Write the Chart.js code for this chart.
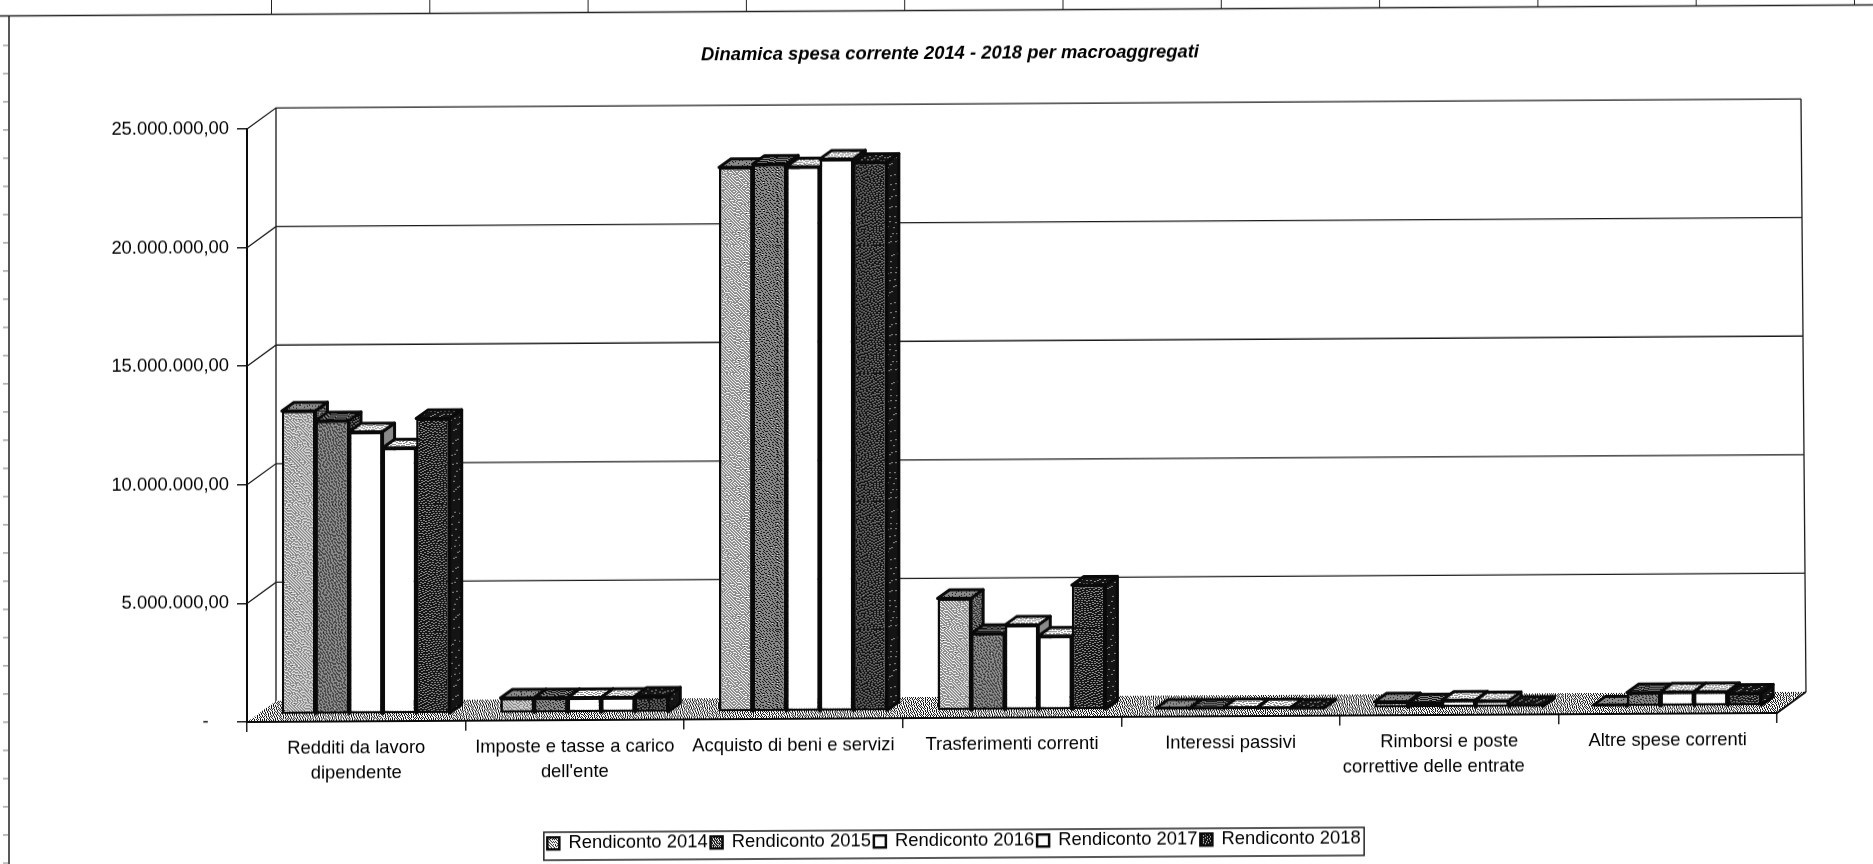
<!DOCTYPE html>
<html lang="it">
<head>
<meta charset="utf-8">
<title>Dinamica spesa corrente</title>
<script src="https://cdn.jsdelivr.net/npm/chart.js@4"></script>
<style>
html,body{margin:0;padding:0;background:#fff;overflow:hidden;width:1873px;height:864px}
canvas{display:block;transform-origin:247px 722px;transform:skewY(-0.338deg)}
</style>
</head>
<body>
<canvas id="c" width="1873" height="864"></canvas>
<script>
const chartTitle = 'Dinamica spesa corrente 2014 - 2018 per macroaggregati';
const categories = [
  ['Redditi da lavoro', 'dipendente'],
  ['Imposte e tasse a carico', "dell'ente"],
  'Acquisto di beni e servizi',
  'Trasferimenti correnti',
  'Interessi passivi',
  ['Rimborsi e poste', 'correttive delle entrate\u00A0\u00A0\u00A0\u00A0\u00A0\u00A0'],
  'Altre spese correnti'
];
const seriesNames = ['Rendiconto 2014', 'Rendiconto 2015', 'Rendiconto 2016', 'Rendiconto 2017', 'Rendiconto 2018'];
const rendiconto2014 = [12810000, 650000, 22970000, 4740000, 60000, 270000, 80000];
const rendiconto2015 = [12390000, 650000, 23100000, 3260000, 50000, 220000, 600000];
const rendiconto2016 = [11910000, 650000, 22980000, 3600000, 60000, 330000, 620000];
const rendiconto2017 = [11230000, 650000, 23300000, 3130000, 50000, 300000, 620000];
const rendiconto2018 = [12460000, 700000, 23150000, 5270000, 30000, 100000, 550000];
const seriesValues = [rendiconto2014, rendiconto2015, rendiconto2016, rendiconto2017, rendiconto2018];
const yTickValues = [0, 5000000, 10000000, 15000000, 20000000, 25000000];
const yTickLabels = ['-\u00A0\u00A0\u00A0\u00A0', '5.000.000,00', '10.000.000,00', '15.000.000,00', '20.000.000,00', '25.000.000,00'];

// Styling of the scanned, dithered monochrome print
const frontLevels = [0.66, 0.38, 1, 1, 0.16];
const topLevels = [0.45, 0.25, 0.8, 0.8, 0.08];
const sideLevels = [0.3, 0.15, 0.5, 0.5, 0.03];
const ink = '#0a0a0a';
const FONT = '"Liberation Sans", Arial, sans-serif';
const FONT_SIZE = 18.4;
const WALL = {dx: 29, dy: -21, lean: 5};
const PLANE = {dx: 9.5, dy: -7};
const BAR = {dx: 12, dy: -8.5};

// Error-diffused tile, like the halftone of the fax/scan
function dither(level) {
  const size = 128, c = document.createElement('canvas');
  c.width = c.height = size;
  const g = c.getContext('2d'), img = g.createImageData(size, size);
  const buf = new Float32Array(size * size);
  for (let i = 0; i < buf.length; i++) {
    const h = Math.sin(i * 12.9898) * 43758.5453;
    buf[i] = level + ((h - Math.floor(h)) - 0.5) * 0.08;
  }
  for (let y = 0; y < size; y++) for (let x = 0; x < size; x++) {
    const i = y * size + x, old = buf[i], v = old >= 0.5 ? 1 : 0, e = old - v;
    if (x + 1 < size) buf[i + 1] += e * 7 / 16;
    if (y + 1 < size) {
      if (x > 0) buf[i + size - 1] += e * 3 / 16;
      buf[i + size] += e * 5 / 16;
      if (x + 1 < size) buf[i + size + 1] += e / 16;
    }
    const p = i * 4, shade = v ? 255 : 20;
    img.data[p] = img.data[p + 1] = img.data[p + 2] = shade;
    img.data[p + 3] = 255;
  }
  g.putImageData(img, 0, 0);
  return g.createPattern(c, 'repeat');
}
const frontFill = frontLevels.map(dither);
const topFill = topLevels.map(dither);
const sideFill = sideLevels.map(dither);
const floorFill = dither(0.58);

function poly(ctx, pts, fill, stroke, lw) {
  ctx.beginPath();
  pts.forEach((p, i) => i ? ctx.lineTo(p[0], p[1]) : ctx.moveTo(p[0], p[1]));
  ctx.closePath();
  if (fill) { ctx.fillStyle = fill; ctx.fill(); }
  if (stroke) { ctx.strokeStyle = stroke; ctx.lineWidth = lw; ctx.lineJoin = 'round'; ctx.stroke(); }
}

const scene = {
  id: 'scene',
  afterLayout(chart) {
    const lg = chart.legend, t = chart.titleBlock;
    t.left += 11.5; t.right += 11.5;
    lg.left += 15.5; lg.right += 15.5;
    lg.top = 833; lg.bottom = 864;
  },
  beforeDraw(chart) {
    const ctx = chart.ctx;
    ctx.save();
    ctx.fillStyle = '#fff';
    ctx.fillRect(0, 0, chart.width, chart.height);
    ctx.strokeStyle = '#222';
    ctx.lineWidth = 1.5;
    ctx.beginPath();
    ctx.moveTo(0, 14.5); ctx.lineTo(chart.width, 14.5);
    ctx.moveTo(9, 14.5); ctx.lineTo(9, chart.height);
    ctx.stroke();
    ctx.lineWidth = 1;
    ctx.beginPath();
    for (let x = 271.5; x < chart.width; x += 158.3) { ctx.moveTo(x, 0); ctx.lineTo(x, 14); }
    ctx.stroke();
    ctx.strokeStyle = '#777';
    ctx.beginPath();
    for (let y = 44; y < chart.height; y += 28.2) { ctx.moveTo(3, y); ctx.lineTo(8, y); }
    ctx.stroke();
    ctx.restore();
  },
  beforeDatasetsDraw(chart) {
    const {ctx, chartArea: a, scales: {y}} = chart;
    const backRight = py => a.right + WALL.dx - WALL.lean * (a.bottom - py) / (a.bottom - a.top);
    ctx.save();
    ctx.strokeStyle = '#1a1a1a';
    ctx.lineWidth = 1.3;
    ctx.beginPath();
    yTickValues.forEach(v => {
      if (v === 0) return;
      const py = y.getPixelForValue(v);
      ctx.moveTo(a.left, py);
      ctx.lineTo(a.left + WALL.dx, py + WALL.dy);
      ctx.lineTo(backRight(py), py + WALL.dy);
    });
    ctx.moveTo(a.left + WALL.dx, a.top + WALL.dy);
    ctx.lineTo(a.left + WALL.dx, a.bottom + WALL.dy);
    ctx.moveTo(backRight(a.top), a.top + WALL.dy);
    ctx.lineTo(backRight(a.bottom), a.bottom + WALL.dy);
    ctx.stroke();
    poly(ctx, [[a.left, a.bottom], [a.left + WALL.dx, a.bottom + WALL.dy],
      [a.right + WALL.dx, a.bottom + WALL.dy], [a.right, a.bottom]], floorFill, null, 0);
    ctx.strokeStyle = ink;
    ctx.lineWidth = 2;
    ctx.beginPath();
    ctx.moveTo(a.left, a.bottom); ctx.lineTo(a.right, a.bottom);
    ctx.lineTo(a.right + WALL.dx, a.bottom + WALL.dy);
    ctx.stroke();

    // Depth faces of the bars, from the library's own bar elements, left to right
    ctx.translate(PLANE.dx, PLANE.dy);
    chart.getSortedVisibleDatasetMetas().forEach(meta => {
      const i = meta.index;
      meta.data.forEach(bar => {
        const p = bar.getProps(['x', 'y', 'base', 'width'], true);
        const l = p.x - p.width / 2, r = p.x + p.width / 2;
        poly(ctx, [[r, p.y], [r + BAR.dx, p.y + BAR.dy], [r + BAR.dx, p.base + BAR.dy], [r, p.base]], sideFill[i], ink, 3);
        poly(ctx, [[l, p.y], [l + BAR.dx, p.y + BAR.dy], [r + BAR.dx, p.y + BAR.dy], [r, p.y]], topFill[i], ink, 3);
      });
    });
    ctx.restore();
  },
  beforeDatasetDraw(chart) {
    chart.ctx.save();
    chart.ctx.translate(PLANE.dx, PLANE.dy);
  },
  afterDatasetDraw(chart) {
    chart.ctx.restore();
  },
  afterDraw(chart) {
    const ctx = chart.ctx, lg = chart.legend;
    const w = lg.lineWidths[0] + 4;
    const x = (lg.left + lg.right - w) / 2;
    ctx.save();
    ctx.strokeStyle = '#222';
    ctx.lineWidth = 1.5;
    ctx.strokeRect(x, 834, w, 28);
    ctx.restore();
  }
};

new Chart(document.getElementById('c'), {
  type: 'bar',
  plugins: [scene],
  data: {
    labels: categories,
    datasets: seriesNames.map((name, i) => ({
      label: name,
      data: seriesValues[i],
      clip: false,
      backgroundColor: frontFill[i],
      borderColor: ink,
      borderWidth: 2.5,
      borderSkipped: false,
      categoryPercentage: 0.768,
      barPercentage: 1
    }))
  },
  options: {
    responsive: false,
    animation: false,
    events: [],
    layout: {padding: {left: 100, right: 96, top: 0, bottom: 0}},
    plugins: {
      tooltip: {enabled: false},
      title: {
        display: true,
        text: chartTitle,
        color: '#000',
        font: {family: FONT, size: FONT_SIZE, weight: 'bold', style: 'italic'},
        padding: {top: 47, bottom: 60}
      },
      legend: {
        display: true,
        position: 'bottom',
        labels: {
          color: '#000',
          boxWidth: 12,
          boxHeight: 12,
          padding: 3,
          font: {family: FONT, size: FONT_SIZE}
        }
      }
    },
    scales: {
      x: {
        afterFit(s) { s.height = 142 - s.chart.legend.height; },
        grid: {drawOnChartArea: false, drawTicks: true, tickLength: 10, color: '#222', lineWidth: 1.5},
        border: {display: true, color: ink, width: 2},
        ticks: {
          color: '#000',
          font: {family: FONT, size: FONT_SIZE, lineHeight: 1.38},
          padding: 4,
          maxRotation: 0,
          minRotation: 0,
          autoSkip: false
        }
      },
      y: {
        min: 0,
        max: 25000000,
        afterFit(s) { s.width = 147; },
        grid: {drawOnChartArea: false, drawTicks: true, tickLength: 10, color: '#222', lineWidth: 1.5},
        border: {display: true, color: ink, width: 2},
        ticks: {
          color: '#000',
          stepSize: 5000000,
          padding: 8,
          font: {family: FONT, size: FONT_SIZE},
          callback: v => yTickLabels[yTickValues.indexOf(v)]
        }
      }
    }
  }
});
</script>
</body>
</html>
